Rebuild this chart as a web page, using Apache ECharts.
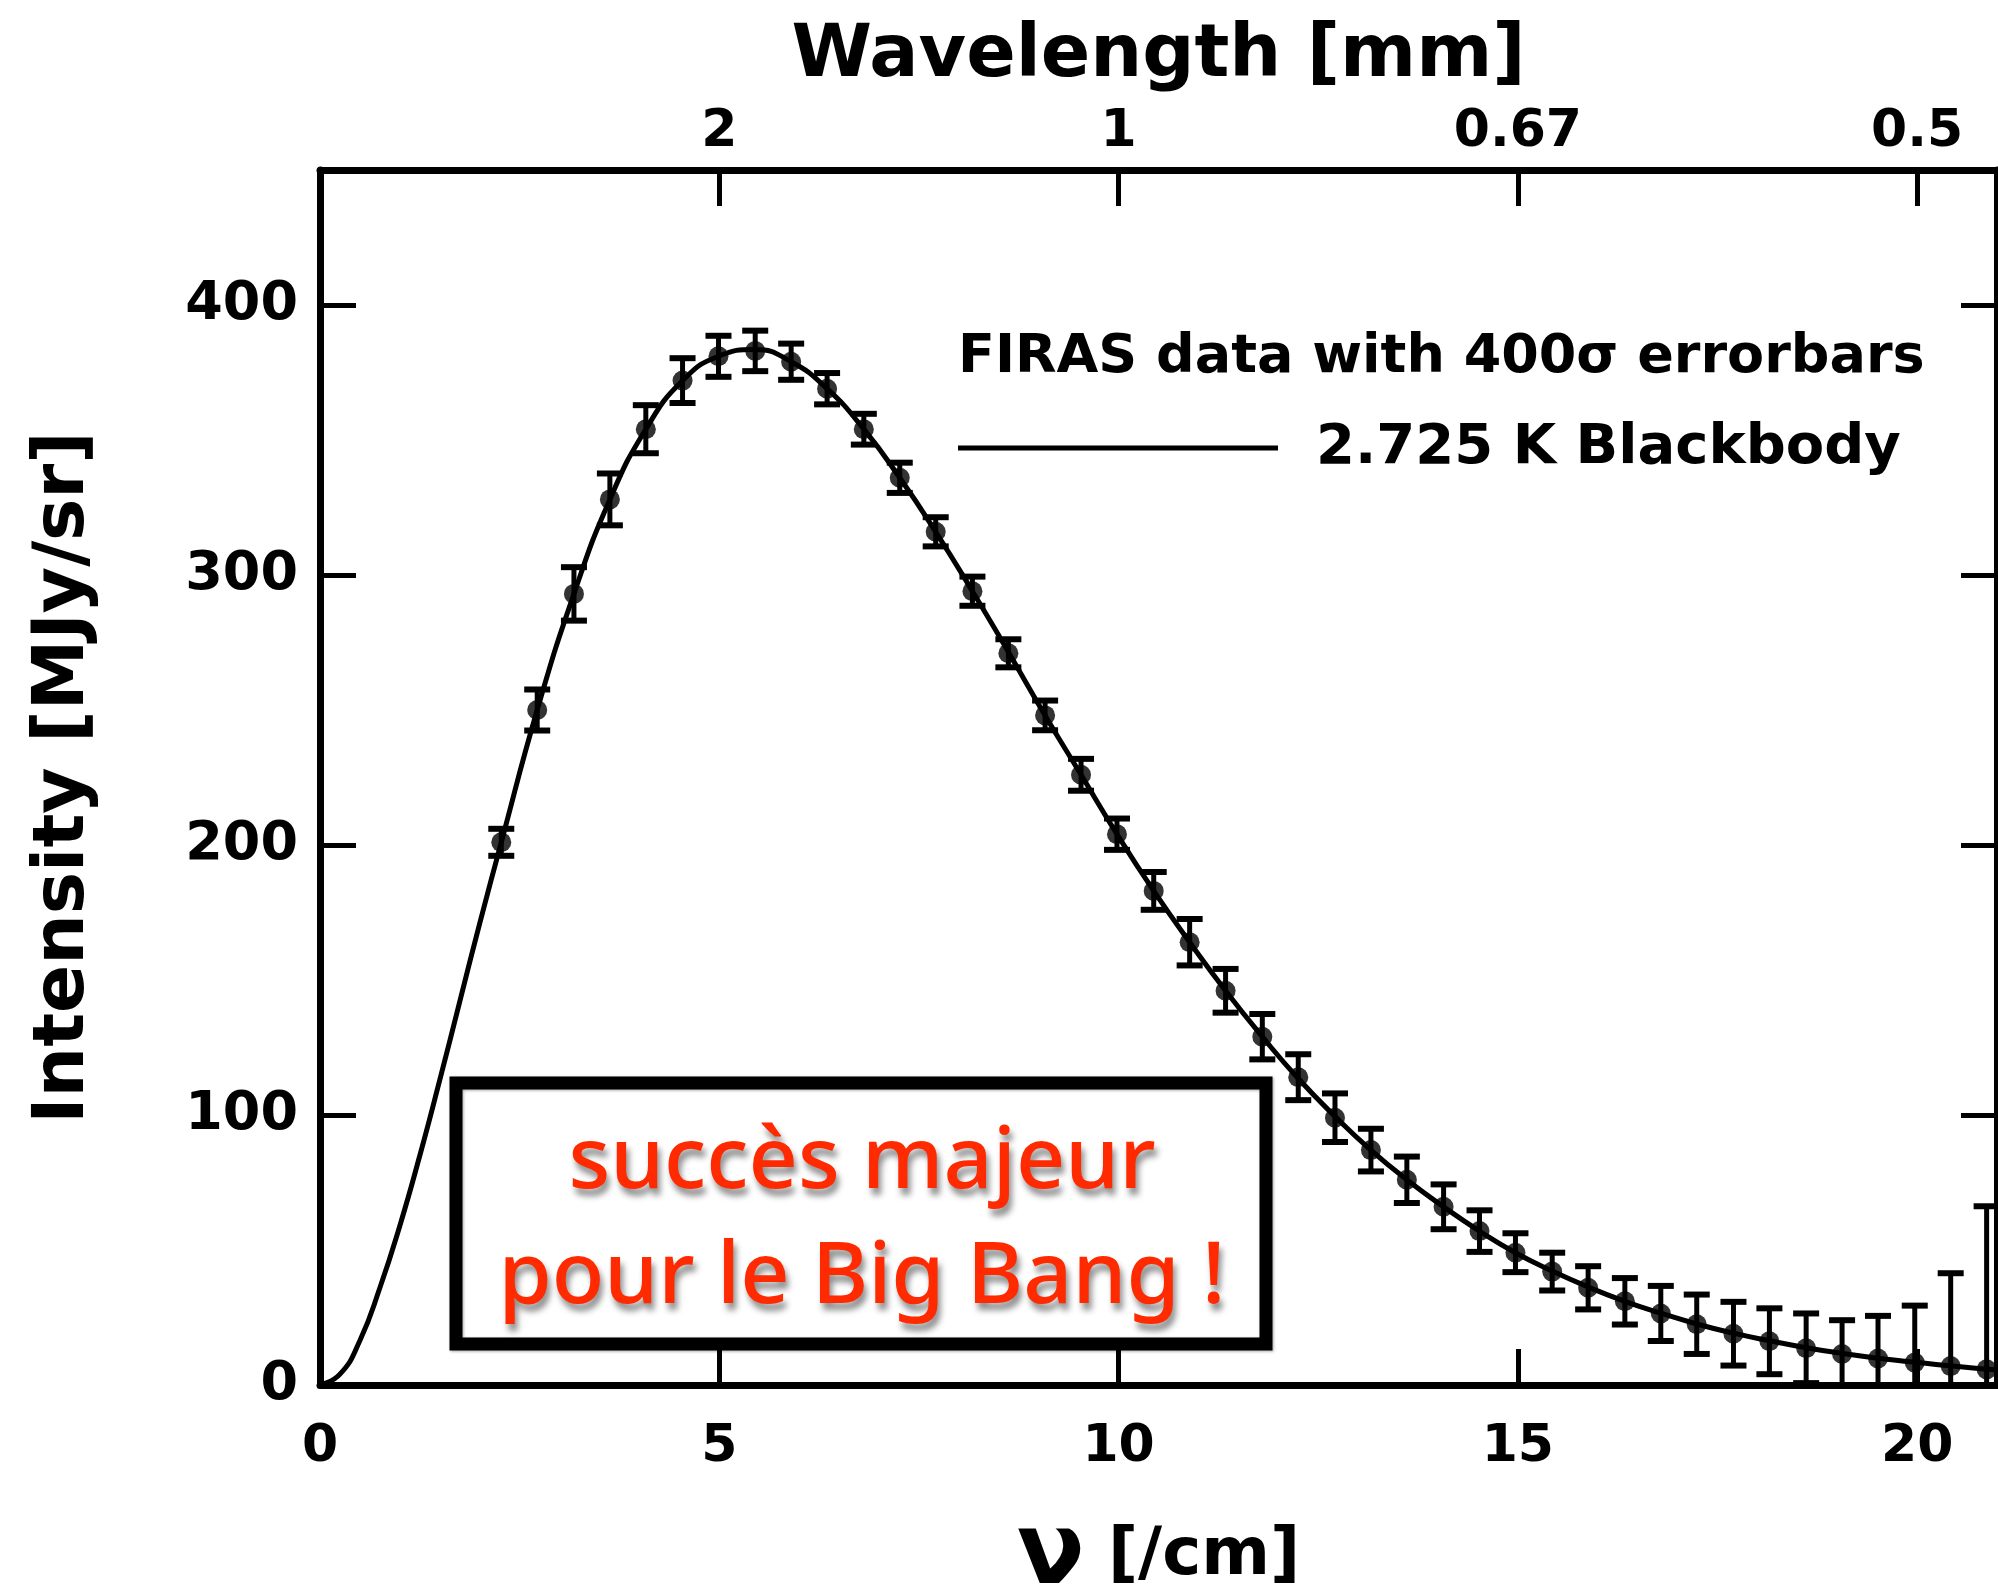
<!DOCTYPE html>
<html>
<head>
<meta charset="utf-8">
<script src="https://cdn.jsdelivr.net/npm/echarts@6/dist/echarts.min.js"></script>
<style>
html, body { margin: 0; padding: 0; background: #fff; }
#main { width: 1998px; height: 1592px; }
</style>
</head>
<body>
<div id="main"></div>
<script>
// FIRAS points (frequency in /cm, intensity in MJy/sr, half length of the 400 sigma bar)
var nu = [2.27, 2.72, 3.18, 3.63, 4.08, 4.54, 4.99, 5.45, 5.90,
    6.35, 6.81, 7.26, 7.71, 8.17, 8.62, 9.08, 9.53,
    9.98, 10.44, 10.89, 11.34, 11.80, 12.25, 12.71, 13.16, 13.61,
    14.07, 14.52, 14.97, 15.43, 15.88, 16.34, 16.79, 17.24, 17.70,
    18.15, 18.61, 19.06, 19.51, 19.97, 20.42, 20.87];
var intensity = [201, 250, 293, 328, 354, 372, 381, 383, 379,
    369, 354, 336, 316, 294, 271, 248, 226,
    204, 183, 164, 146, 129, 114, 99, 87, 76,
    66, 57, 49, 42, 36, 31, 26.5, 22.5, 19,
    16.2, 13.6, 11.5, 9.8, 8.3, 7, 5.8];
var errorbar = [5.0, 7.6, 9.9, 9.6, 8.9, 8.3, 7.6, 7.5, 6.7,
    5.8, 5.7, 5.6, 5.4, 5.4, 5.2, 5.5, 5.9,
    5.8, 7.0, 8.6, 8.1, 8.4, 8.5, 9.0, 7.9, 8.6,
    8.3, 7.7, 7.2, 7.0, 8.0, 8.6, 10.2, 11.0, 11.8,
    12.2, 12.9, 12.5, 15.8, 21.1, 34.4, 60.4];

// blackbody curve
var curveNu = [0, 0.25, 0.5, 0.75, 1, 1.25, 1.5, 1.75, 2,
    2.27, 2.72, 3.18, 3.63, 4.08, 4.54, 4.99, 5.45, 5.90,
    6.35, 6.81, 7.26, 7.71, 8.17, 8.62, 9.08, 9.53,
    9.98, 10.44, 10.89, 11.34, 11.80, 12.25, 12.71, 13.16, 13.61,
    14.07, 14.52, 14.97, 15.43, 15.88, 16.34, 16.79, 17.24, 17.70,
    18.15, 18.61, 19.06, 19.51, 19.97, 20.42, 20.87, 21];
var curveI = [0, 4, 16.5, 36, 59, 85, 113, 142, 171,
    201, 250, 293, 328, 354, 372, 381, 383.5, 379,
    369, 354, 336, 316, 294, 271.5, 248, 226,
    204, 183, 164, 146, 129, 113.5, 99.5, 87, 76,
    66, 57, 49, 42.2, 36.3, 31, 26.6, 22.6, 19.2,
    16.4, 13.8, 11.7, 9.9, 8.4, 7.1, 5.8, 5.6];

var wavelengthTicks = [5, 10, 15, 20];
var wavelengthLabels = ['2', '1', '0.67', '0.5'];

var font = 'DejaVu Sans';

function pairs(xs, ys){
    var out = [];
    for(var i = 0; i < xs.length; i ++){
        out.push([xs[i], ys[i]]);
    }
    return out;
}

function errorData(){
    var out = [];
    for(var i = 0; i < nu.length; i ++){
        out.push([nu[i], intensity[i] - errorbar[i], intensity[i] + errorbar[i]]);
    }
    return out;
}

function renderError(params, api){
    var x = api.value(0);
    var lo = api.coord([x, api.value(1)]);
    var hi = api.coord([x, api.value(2)]);
    var half = 13;
    var stem = {stroke: '#000', lineWidth: 5};
    var cap = {stroke: '#000', lineWidth: 6};
    return {
        type: 'group',
        children: [
            {type: 'line', shape: {x1: hi[0], y1: hi[1], x2: lo[0], y2: lo[1]}, style: stem},
            {type: 'line', shape: {x1: hi[0] - half, y1: hi[1], x2: hi[0] + half, y2: hi[1]}, style: cap},
            {type: 'line', shape: {x1: lo[0] - half, y1: lo[1], x2: lo[0] + half, y2: lo[1]}, style: cap}
        ]
    };
}

function frameAxis(extra){
    var axis = {
        type: 'value',
        axisLine: { show: true, onZero: false, lineStyle: { color: '#000', width: 7 } },
        axisTick: { show: true, inside: true, length: 36, lineStyle: { color: '#000', width: 5 } },
        axisLabel: {
            color: '#000', fontFamily: font, fontWeight: 'bold', fontSize: 52,
            showMaxLabel: false
        },
        splitLine: { show: false }
    };
    for(var k in extra){
        if(k === 'axisLabel'){
            for(var j in extra[k]) axis.axisLabel[j] = extra[k][j];
        } else {
            axis[k] = extra[k];
        }
    }
    return axis;
}

var myChart = echarts.init(document.getElementById('main'));

var option = {
    backgroundColor: '#fff',
    animation: false,
    grid: { left: 320, right: 1, top: 170, bottom: 207, containLabel: false, outerBoundsMode: 'none' },
    xAxis: [
        frameAxis({
            position: 'bottom', min: 0, max: 21, interval: 5,
            axisLabel: { margin: 36 },
            name: '{nu|ν} [/cm]',
            nameLocation: 'middle',
            nameGap: 122,
            nameTextStyle: {
                color: '#000', fontFamily: font, fontWeight: 'bold', fontSize: 66,
                rich: { nu: { fontFamily: font, fontWeight: 'bold', fontSize: 100, color: '#000' } }
            }
        }),
        frameAxis({
            position: 'top', min: 0, max: 21, interval: 5,
            axisLabel: {
                margin: 12,
                formatter: function (value) {
                    var i = wavelengthTicks.indexOf(value);
                    return i >= 0 ? wavelengthLabels[i] : '';
                }
            },
            name: 'Wavelength [mm]',
            nameLocation: 'middle',
            nameGap: 76,
            nameTextStyle: { color: '#000', fontFamily: font, fontWeight: 'bold', fontSize: 73 }
        })
    ],
    yAxis: [
        frameAxis({
            position: 'left', min: 0, max: 450, interval: 100,
            axisLabel: { margin: 22, fontSize: 54 },
            name: 'Intensity [MJy/sr]',
            nameLocation: 'middle',
            nameGap: 220,
            nameTextStyle: { color: '#000', fontFamily: font, fontWeight: 'bold', fontSize: 71 }
        }),
        frameAxis({
            position: 'right', min: 0, max: 450, interval: 100,
            axisLabel: { show: false }
        })
    ],
    legend: [
        {
            data: ['FIRAS data with 400σ errorbars'],
            left: 953, top: 331, padding: 0,
            icon: 'rect', itemWidth: 0, itemHeight: 1,
            itemStyle: { opacity: 0 },
            selectedMode: false,
            textStyle: { color: '#000', fontFamily: font, fontWeight: 'bold', fontSize: 54 }
        },
        {
            data: ['2.725 K Blackbody'],
            left: 958, top: 420, padding: 0,
            icon: 'rect', itemWidth: 320, itemHeight: 5,
            selectedMode: false,
            textStyle: { color: '#000', fontFamily: font, fontWeight: 'bold', fontSize: 56, padding: [0, 0, 0, 33] }
        }
    ],
    series: [
        {
            name: '2.725 K Blackbody',
            type: 'line',
            color: '#000',
            data: pairs(curveNu, curveI),
            smooth: true,
            showSymbol: false,
            symbol: 'none',
            lineStyle: { color: '#000', width: 5 },
            z: 2
        },
        {
            name: 'FIRAS data with 400σ errorbars',
            type: 'scatter',
            color: '#000',
            data: pairs(nu, intensity),
            symbol: 'circle',
            symbolSize: 20,
            itemStyle: { color: '#000' },
            z: 3
        },
        {
            name: 'errorbars',
            type: 'custom',
            data: errorData(),
            renderItem: renderError,
            encode: { x: 0, y: [1, 2] },
            clip: true,
            z: 3
        }
    ],
    graphic: [
        {
            type: 'rect',
            shape: { x: 456, y: 1083, width: 810, height: 261 },
            style: {
                fill: '#fff', stroke: '#000', lineWidth: 13,
                shadowBlur: 3, shadowColor: 'rgba(0,0,0,0.35)', shadowOffsetX: 1, shadowOffsetY: 1
            },
            z: 10
        },
        {
            type: 'text',
            x: 862, y: 1221,
            style: {
                text: 'succès majeur\npour le Big Bang !',
                fill: '#ff2a00',
                fontFamily: 'Noto Sans',
                fontWeight: 500,
                fontSize: 86,
                lineHeight: 115,
                align: 'center',
                verticalAlign: 'middle',
                textShadowColor: 'rgba(0,0,0,0.45)',
                textShadowBlur: 6,
                textShadowOffsetX: 3,
                textShadowOffsetY: 7
            },
            z: 11
        }
    ]
};

myChart.setOption(option);
</script>
</body>
</html>
